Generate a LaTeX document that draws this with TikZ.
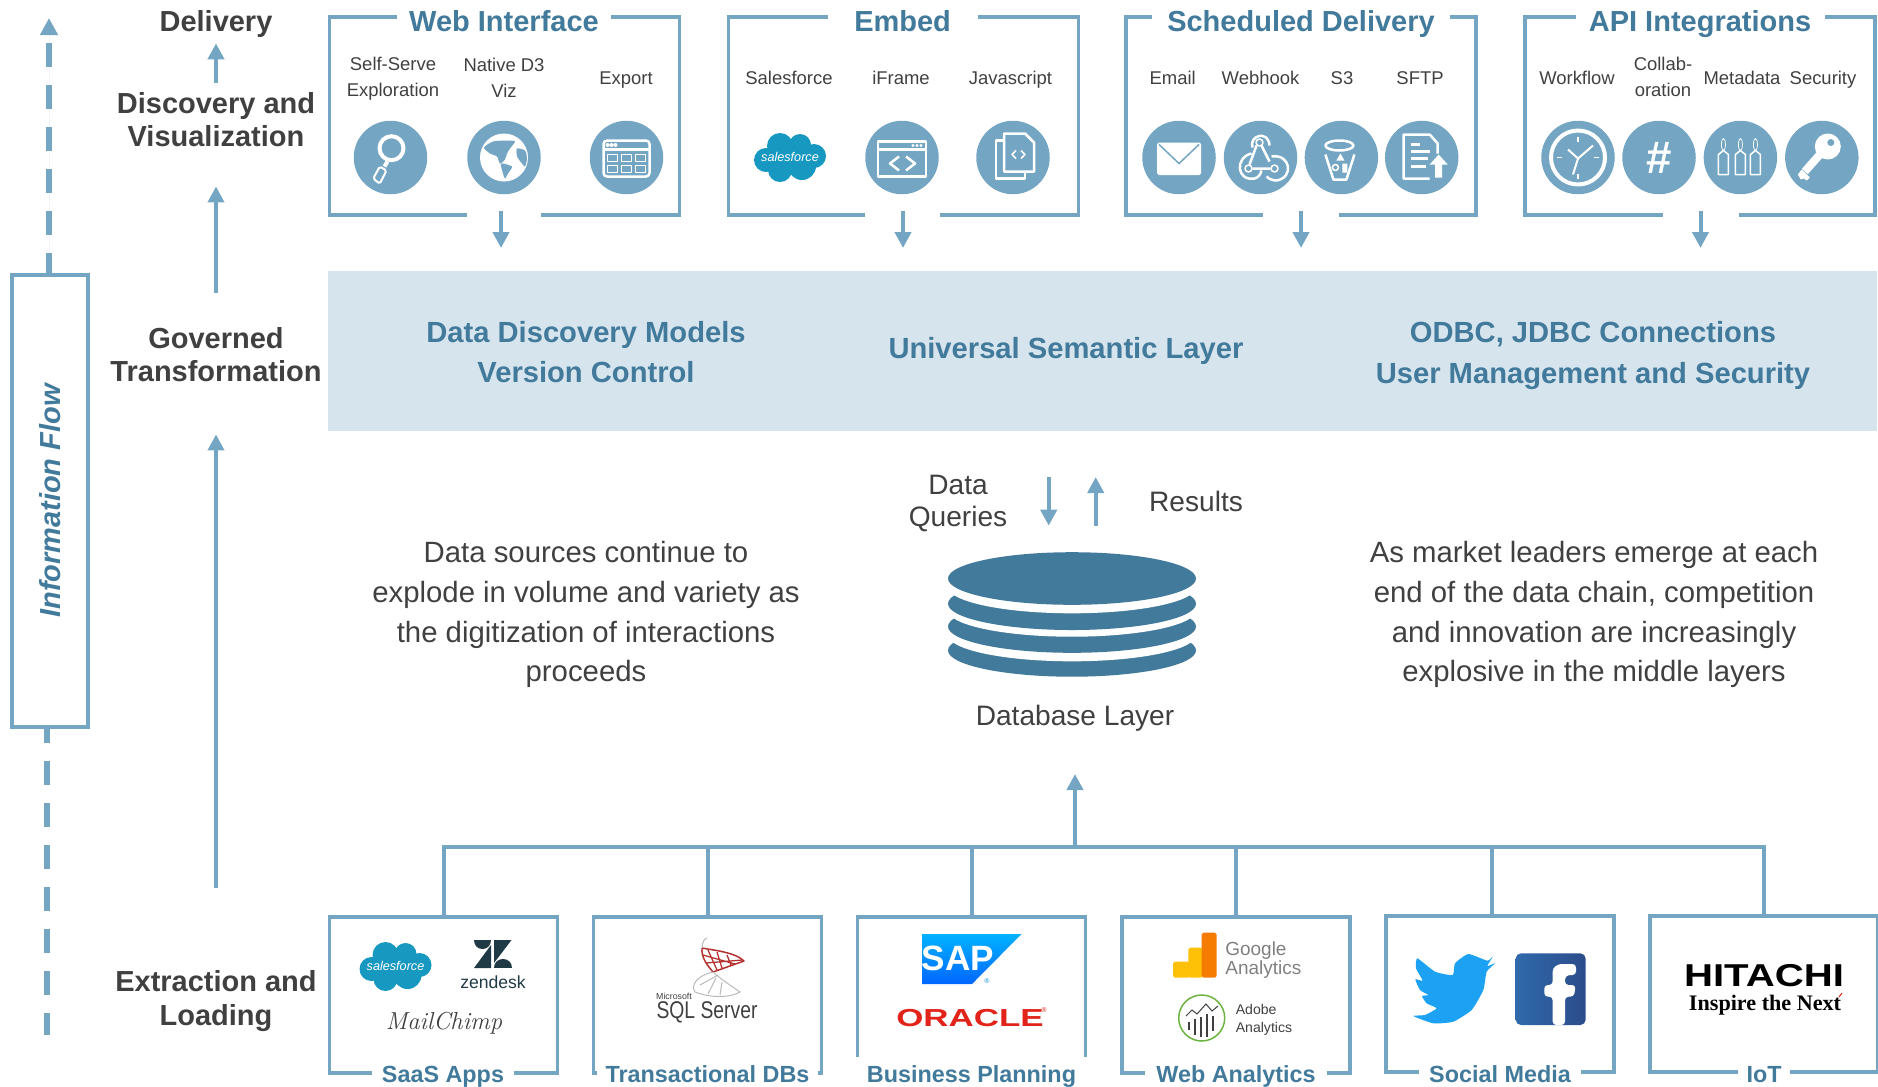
\documentclass[tikz,border=0pt]{standalone}
\usepackage{fontspec}
\setsansfont{Liberation Sans}
\renewcommand{\familydefault}{\sfdefault}
\newfontfamily\logoserif{Liberation Serif}
\usetikzlibrary{arrows.meta}
\definecolor{lineblue}{HTML}{74A6C4}
\definecolor{titleblue}{HTML}{427A9C}
\definecolor{bandblue}{HTML}{D6E4EE}
\definecolor{darktext}{HTML}{404040}
\definecolor{cloudblue}{HTML}{1798C1}
\definecolor{zendark}{HTML}{1F3A44}
\definecolor{sapblue}{HTML}{0A8FD6}
\definecolor{oraclered}{HTML}{E2231A}
\definecolor{sqlred}{HTML}{B5312F}
\definecolor{gaorange}{HTML}{F57C00}
\definecolor{gayellow}{HTML}{FFC107}
\definecolor{adobegreen}{HTML}{6DB33F}
\definecolor{birdblue}{HTML}{1DA1F2}
\definecolor{fbblue}{HTML}{3459A2}
\newcommand{\sfcloud}{%
    \fill[cloudblue] (-10,-11) circle[radius=13] (10,-12) circle[radius=11] (24,-1) circle[radius=12]
        (-24,3) circle[radius=12] (-10,13) circle[radius=12] (12,9) circle[radius=14] (0,0) circle[radius=16];
    \node[font=\fontsize{7.2}{8}\selectfont\itshape, white] at (0,0) {salesforce};
}

\begin{document}
\begin{tikzpicture}[x=0.02cm,y=-0.02cm]
        % Styles
        \tikzset{
            topframe/.style={rectangle, draw=lineblue, line width=0.07cm, inner sep=0,
                             minimum width=7cm, minimum height=3.96cm},
            lowframe/.style={rectangle, draw=lineblue, line width=0.07cm, inner sep=0,
                             minimum width=4.56cm, minimum height=3.12cm},
            toptitle/.style={fill=white, inner sep=0, text=titleblue, text height=0.42cm, text depth=0.12cm,
                             font=\fontsize{16.5}{18}\selectfont\bfseries},
            lowtitle/.style={fill=white, inner sep=0, text=titleblue, text height=0.36cm, text depth=0.1cm,
                             font=\fontsize{13.3}{15}\selectfont\bfseries},
            framegap/.style={fill=white, inner sep=0, minimum height=0.16cm},
            iconcircle/.style={circle, fill=lineblue, inner sep=0, minimum size=1.47cm},
            iconline/.style={draw=white, line width=0.05cm, line join=round},
            thinicon/.style={draw=white, line width=0.03cm, line join=round},
            itemlabel/.style={align=center, text=darktext, font=\fontsize{10.5}{14.7}\selectfont},
            levellabel/.style={align=center, inner sep=0.12cm, text=darktext, font=\fontsize{16.5}{18.7}\selectfont\bfseries},
            bandtext/.style={align=center, text=titleblue, font=\fontsize{16.6}{23.2}\selectfont\bfseries},
            bodytext/.style={align=center, text=darktext, font=\fontsize{16.7}{22.7}\selectfont},
            dbtext/.style={align=center, text=darktext, font=\fontsize{16}{17.8}\selectfont},
            flowarrow/.style={-{Triangle[width=0.32cm,length=0.32cm]}, draw=lineblue, fill=lineblue, line width=0.08cm},
            busline/.style={draw=lineblue, line width=0.08cm},
            dashflow/.style={draw=lineblue, line width=0.12cm, dash pattern=on 0.48cm off 0.36cm}
        }
        \useasboundingbox (0,0) rectangle (1878,1086);

        % Band
        \node[rectangle, fill=bandblue, inner sep=0, minimum width=30.98cm, minimum height=3.2cm] (band) at (1102.5,351) {};
        \node[bandtext] (bandleft) at (586,352) {Data Discovery Models\\Version Control};
        \node[bandtext] (bandmid) at (1066,351) {Universal Semantic Layer};
        \node[bandtext] (bandright) at (1593,355.5) {ODBC, JDBC Connections\\User Management and Security};

        % Top frames
        \node[topframe] (webframe) at (504.5,116) {};
        \node[topframe] (embedframe) at (903.35,116) {};
        \node[topframe] (schedframe) at (1301,116) {};
        \node[topframe] (apiframe) at (1700,116) {};
        \node[toptitle, minimum width=4.28cm] (webtitle) at (504,23.5) {Web Interface};
        \node[toptitle, minimum width=3cm] (embedtitle) at (902.6,23.5) {Embed};
        \node[toptitle, minimum width=5.98cm] (schedtitle) at (1301,23.5) {Scheduled Delivery};
        \node[toptitle, minimum width=4.98cm] (apititle) at (1700,23.5) {API Integrations};
        \node[framegap, minimum width=1.48cm] (webgap) at (504,215) {};
        \node[framegap, minimum width=1.5cm] (embedgap) at (902.5,215) {};
        \node[framegap, minimum width=1.52cm] (schedgap) at (1301.4,215) {};
        \node[framegap, minimum width=1.52cm] (apigap) at (1701,215) {};

        % Top connectors
        \coordinate (webtip) at (501,248);
        \coordinate (embedtip) at (903,248);
        \coordinate (schedtip) at (1301,248);
        \coordinate (apitip) at (1700.5,248);
        \draw[flowarrow] (webgap.north -| webtip) -- (webtip);
        \draw[flowarrow] (embedgap.north -| embedtip) -- (embedtip);
        \draw[flowarrow] (schedgap.north -| schedtip) -- (schedtip);
        \draw[flowarrow] (apigap.north -| apitip) -- (apitip);

        % Item labels
        \node[itemlabel] (selfserve) at (393,79) {Self-Serve\\Exploration};
        \node[itemlabel] (nativeviz) at (504,77.5) {Native D3\\Viz};
        \node[itemlabel] (export) at (626,80) {Export};
        \node[itemlabel] (sflabel) at (789,78) {Salesforce};
        \node[itemlabel] (iframelabel) at (901,78) {iFrame};
        \node[itemlabel] (jslabel) at (1010.5,80) {Javascript};
        \node[itemlabel] (emaillabel) at (1172.7,78) {Email};
        \node[itemlabel] (hooklabel) at (1260.5,78) {Webhook};
        \node[itemlabel] (sthreelabel) at (1342,78) {S3};
        \node[itemlabel] (sftplabel) at (1420,78) {SFTP};
        \node[itemlabel] (flowlabel) at (1577,78) {Workflow};
        \node[itemlabel] (collablabel) at (1663,77) {Collab-\\oration};
        \node[itemlabel] (metalabel) at (1742,78) {Metadata};
        \node[itemlabel] (securelabel) at (1823,80) {Security};

        % Icons of the top row
        \node[iconcircle] (searchicon) at (390.5,157.5) {};
        \begin{scope}[shift={(searchicon)}]
            \draw[iconline, line width=0.08cm] (1,-9.3) circle[radius=12];
            \draw[iconline, line width=0.08cm] (-3,4) -- (-6,9);
            \draw[thinicon, line width=0.04cm, rounded corners=1pt] (-10.7,9) -- (-4,13) -- (-10.7,26.3) -- (-17.3,21) -- cycle;
        \end{scope}
        \node[iconcircle] (globeicon) at (504,157.5) {};
        \begin{scope}[shift={(globeicon)}]
            \fill[white] (0,0) circle[radius=24];
            \fill[lineblue] plot[smooth cycle, tension=0.4] coordinates {(-20,-10) (-11,-16) (3,-17) (11,-16) (6,-9) (3,-4) (1,2) (-4,6) (-7,-1) (-14,-4)};
            \fill[lineblue] plot[smooth cycle, tension=0.4] coordinates {(-3,6) (8,9) (4,16) (1,21) (-1,16)};
            \fill[lineblue] plot[smooth cycle, tension=0.4] coordinates {(13,-9) (21,-7) (23,1) (21,9) (18,6) (13,-1)};
        \end{scope}
        \node[iconcircle] (exporticon) at (626.5,157.5) {};
        \begin{scope}[shift={(exporticon)}]
            \draw[iconline, rounded corners=2pt] (-23,-17) rectangle (23,19);
            \draw[iconline] (-23,-8) -- (23,-8);
            \fill[white] (-19,-12.5) circle[radius=2] (-15,-12.5) circle[radius=2] (-11,-12.5) circle[radius=2];
            \draw[thinicon] (-19,-3) rectangle (-9,4) (-5,-3) rectangle (5,4) (9,-3) rectangle (19,4)
                (-19,8) rectangle (-9,15) (-5,8) rectangle (5,15) (9,8) rectangle (19,15);
        \end{scope}
        \node[inner sep=0, minimum size=1cm] (sfcloudtop) at (790,157) {};
        \begin{scope}[shift={(sfcloudtop)}]
            \sfcloud
        \end{scope}
        \node[iconcircle] (iframeicon) at (902,157.5) {};
        \begin{scope}[shift={(iframeicon)}]
            \draw[iconline] (-24,-16) rectangle (24,19);
            \draw[iconline] (-24,-8) -- (24,-8);
            \fill[white] (11,-12) circle[radius=1.7] (15,-12) circle[radius=1.7] (19,-12) circle[radius=1.7];
            \draw[iconline] (-3,-1) -- (-12,6) -- (-3,13) (4,-1) -- (13,6) -- (4,13);
        \end{scope}
        \node[iconcircle] (jsicon) at (1013,157.5) {};
        \begin{scope}[shift={(jsicon)}]
            \draw[iconline] (-9,-17) -- (-17,-17) -- (-17,21) -- (12,21) -- (12,15);
            \draw[iconline] (-9,14) -- (-9,-24) -- (12,-24) -- (21,-15) -- (21,14) -- cycle;
            \draw[thinicon] (3,-7) -- (-1,-3) -- (3,1) (8,-7) -- (12,-3) -- (8,1);
        \end{scope}
        \node[iconcircle] (emailicon) at (1179,157.5) {};
        \begin{scope}[shift={(emailicon)}]
            \fill[white, rounded corners=1pt] (-22,-15) rectangle (22,17.5);
            \draw[lineblue, line width=0.03cm] (-20,-13) -- (0,6) -- (20,-13);
        \end{scope}
        \node[iconcircle] (hookicon) at (1260.5,157.5) {};
        \begin{scope}[shift={(hookicon)}]
            \draw[thinicon] (-1,-15) circle[radius=3.5] (-12,11) circle[radius=3.5] (14,11) circle[radius=3.5];
            \draw[iconline] (-8,-10) .. controls (-12,-22) and (8,-28) .. (9,-12);
            \draw[iconline] (-9,-4) .. controls (-26,0) and (-24,24) .. (-6,21) .. controls (-2,20) and (0,17) .. (1,13);
            \draw[iconline] (11,-1) .. controls (30,-4) and (34,20) .. (16,23) .. controls (13,23) and (9,22) .. (6,19);
            \draw[iconline] (1,-12) -- (9,4) (-4,-12) -- (-11,7) (-8,11) -- (10,11);
        \end{scope}
        \node[iconcircle] (bucketicon) at (1341.4,157.5) {};
        \begin{scope}[shift={(bucketicon)}]
            \draw[iconline] (-2,-12) ellipse[x radius=14, y radius=5];
            \draw[iconline] (-16,-3) -- (-8,22) -- (5,22) -- (13,-3);
            \fill[white] (-1,-4) -- (-5,3) -- (3,3) -- cycle (1,6) rectangle (6,15);
            \draw[thinicon] (-6,10) circle[radius=3];
        \end{scope}
        \node[iconcircle] (sftpicon) at (1421.7,157.5) {};
        \begin{scope}[shift={(sftpicon)}]
            \draw[iconline] (8,21) -- (-18,21) -- (-18,-23) -- (8,-23) -- (16,-14) -- (16,-4);
            \draw[iconline] (-11,-13) -- (-2,-13) (-11,-6) -- (8,-6) (-11,1) -- (6,1) (-11,9) -- (4,9);
            \fill[white] (17,-3) -- (26,7) -- (20.5,7) -- (20.5,20) -- (13.5,20) -- (13.5,7) -- (8,7) -- cycle;
        \end{scope}
        \node[iconcircle] (clockicon) at (1578,157.5) {};
        \begin{scope}[shift={(clockicon)}]
            \draw[iconline, line width=0.08cm] (0,0) circle[radius=27];
            \draw[thinicon] (0,-21) -- (0,-16) (0,21) -- (0,16) (-21,0) -- (-16,0) (21,0) -- (16,0);
            \draw[thinicon, line width=0.04cm] (-10,-8) -- (0,1) -- (15,-12) (0,1) -- (-5,17);
        \end{scope}
        \node[iconcircle] (hashicon) at (1659,157.5) {};
        \node[text=white, inner sep=0, font=\fontsize{26}{27}\selectfont\bfseries] (hashglyph) at (hashicon) {\#};
        \node[iconcircle] (tagicon) at (1740.4,157.5) {};
        \begin{scope}[shift={(tagicon)}]
            \draw[thinicon] (-17,-7) -- (-12,-3) -- (-12,17) -- (-22,17) -- (-22,-3) -- cycle;
            \draw[thinicon] (0,-7) -- (5,-3) -- (5,17) -- (-5,17) -- (-5,-3) -- cycle;
            \draw[thinicon] (15,-7) -- (20,-3) -- (20,17) -- (10,17) -- (10,-3) -- cycle;
            \draw[white, line width=0.015cm] (-17,-13) ellipse[x radius=2, y radius=6] (0,-13) ellipse[x radius=2, y radius=6] (15,-13) ellipse[x radius=2, y radius=6];
        \end{scope}
        \node[iconcircle] (keyicon) at (1821.8,157.5) {};
        \begin{scope}[shift={(keyicon)}]
            \fill[white] (6,-11) circle[radius=13];
            \draw[white, line width=0.16cm] (-1,-4) -- (-17,14);
            \fill[white] (-20,12) -- (-12,20) -- (-15,23) -- (-18,21) -- (-21,22) -- (-24,17) -- cycle;
            \fill[lineblue] (9,-15) circle[radius=3.5];
        \end{scope}

        % Level labels
        \node[levellabel] (delivery) at (216,23.5) {Delivery};
        \node[levellabel] (discovery) at (216,120) {Discovery and\\Visualization};
        \node[levellabel] (governed) at (216,355) {Governed\\Transformation};
        \node[levellabel, font=\fontsize{16.5}{19.3}\selectfont\bfseries] (extraction) at (216,1001) {Extraction and\\Loading};
        \draw[flowarrow, shorten <=0.08cm] (discovery.north) -- (delivery.south);
        \draw[flowarrow, shorten <=0.58cm, shorten >=0.66cm] (governed.north) -- (discovery.south);
        \draw[flowarrow, shorten <=1.53cm, shorten >=0.92cm] (extraction.north) -- (governed.south);

        % Information flow
        \node[rectangle, draw=lineblue, line width=0.08cm, rotate=90, inner sep=0, minimum width=9.04cm, minimum height=1.52cm,
              text=titleblue, font=\fontsize{16.5}{19}\selectfont\bfseries\itshape] (infobox) at (50,501) {Information Flow};
        \coordinate (flowtop) at (49,18);
        \coordinate (flowend) at (46.5,1035);
        \draw[dashflow, dash phase=0.08cm, -{Triangle[width=0.34cm,length=0.34cm]}, fill=lineblue] (infobox.east -| flowtop) -- (flowtop);
        \draw[dashflow, dash phase=0.2cm] (infobox.west -| flowend) -- (flowend);

        % Middle
        \node[bodytext] (sourcetext) at (586,614.5) {Data sources continue to\\explode in volume and variety as\\the digitization of interactions\\proceeds};
        \node[bodytext] (markettext) at (1594,614.5) {As market leaders emerge at each\\end of the data chain, competition\\and innovation are increasingly\\explosive in the middle layers};
        \node[dbtext] (querylabel) at (958,503.5) {Data\\Queries};
        \node[dbtext] (resultlabel) at (1196,501.5) {Results};
        \coordinate (querytop) at (1048.7,477);
        \coordinate (querytip) at (1048.7,525.7);
        \coordinate (resultlow) at (1095.7,525.7);
        \coordinate (resulttip) at (1095.7,477);
        \draw[flowarrow] (querytop) -- (querytip);
        \draw[flowarrow] (resultlow) -- (resulttip);

        % Database
        \fill[titleblue] (1072,650.4) ellipse[x radius=124, y radius=26.3];
        \fill[white] (1072,635) ellipse[x radius=124, y radius=26.3];
        \fill[titleblue] (1072,626.5) ellipse[x radius=124, y radius=26.3];
        \fill[white] (1072,610.4) ellipse[x radius=124, y radius=26.3];
        \fill[titleblue] (1072,603.7) ellipse[x radius=124, y radius=26.3];
        \fill[white] (1072,587) ellipse[x radius=124, y radius=26.3];
        \fill[titleblue] (1072,578.5) ellipse[x radius=124, y radius=26.3];
        \node[dbtext] (dblabel) at (1075,718) {Database Layer};

        % Lower frames
        \node[lowframe] (saasframe) at (443.5,995) {};
        \node[lowframe] (transframe) at (707.5,995) {};
        \node[lowframe] (bizframe) at (971.5,995) {};
        \node[lowframe] (webanaframe) at (1236,995) {};
        \node[lowframe] (socialframe) at (1500,994) {};
        \node[lowframe] (iotframe) at (1764,994) {};
        \node[lowtitle, minimum width=2.84cm] (saastitle) at (443,1075.5) {SaaS Apps};
        \node[lowtitle, minimum width=4.41cm] (transtitle) at (707.5,1075.5) {Transactional DBs};
        \node[lowtitle, minimum width=4.72cm, minimum height=0.74cm] (biztitle) at (971.5,1075.5) {Business Planning};
        \node[lowtitle, minimum width=3.63cm] (webanatitle) at (1236,1075.5) {Web Analytics};
        \node[lowtitle, minimum width=3.25cm] (socialtitle) at (1500,1075.5) {Social Media};
        \node[lowtitle, minimum width=1.05cm] (iottitle) at (1764,1075.5) {IoT};

        % Bus
        \coordinate (busjoin) at (1075,847);
        \coordinate (dbtip) at (1075,774);
        \coordinate (socialstem) at (1492,915);
        \draw[busline] (saasframe.north) |- (iotframe.north |- busjoin) -- (iotframe.north);
        \draw[busline] (transframe.north) -- (transframe.north |- busjoin);
        \draw[busline] (bizframe.north) -- (bizframe.north |- busjoin);
        \draw[busline] (webanaframe.north) -- (webanaframe.north |- busjoin);
        \draw[busline] (socialstem) -- (socialstem |- busjoin);
        \draw[flowarrow] (busjoin) -- (dbtip);

        % Logos
        \node[inner sep=0, minimum size=1cm] (sfcloudlow) at (395.5,966) {};
        \begin{scope}[shift={(sfcloudlow)}]
            \sfcloud
        \end{scope}
        \fill[zendark] (474,940) -- (491,940) .. controls (491,952) and (474,952) .. (474,940);
        \fill[zendark] (494,940) -- (511.5,940) -- (494,963) -- cycle;
        \fill[zendark] (474,968) -- (491,968) -- (491,945) -- cycle;
        \fill[zendark] (494,968) .. controls (494,956) and (511.5,956) .. (511.5,968) -- cycle;
        \node[text=zendark, font=\fontsize{10}{11}\selectfont] (zenlabel) at (493,982) {zendesk};
        \node[text=darktext, font=\rmfamily\itshape\fontsize{14}{15}\selectfont] (chimplabel) at (444,1023) {MailChimp};
        \draw[sqlred, line width=0.03cm, line join=round] (702,948) .. controls (712,950) and (735,952) .. (744,961) -- (713,972) .. controls (708,966) and (701,958) .. (702,948);
        \draw[sqlred, line width=0.025cm] (708,950) -- (717,970) (717,952) -- (722,968) (727,955) -- (731,965) (703,955) -- (735,964) (706,963) -- (742,960);
        \draw[gray!55, line width=0.02cm] (702,948) .. controls (702,942) and (705,938) .. (707,938)
            (713,972) .. controls (698,975) and (690,985) .. (695,992) .. controls (710,998) and (730,998) .. (740,992) .. controls (730,985) and (722,980) .. (713,972)
            (700,985) -- (718,975) (708,994) -- (716,978) (720,995) -- (722,982);
        \node[text=darktext, inner sep=0, font=\fontsize{5}{6}\selectfont] (mslabel) at (674,996) {Microsoft};
        \node[text=darktext, inner sep=0, yscale=1.25, transform shape, font=\fontsize{11}{12}\selectfont] (sqllabel) at (707,1012) {SQL Server};
        \shade[top color=cyan!70!blue, bottom color=blue!60!cyan] (922,934) -- (1021.5,934) -- (972,984) -- (922,984) -- cycle;
        \node[text=white, inner sep=0, font=\fontsize{20}{21}\selectfont\bfseries] (saplabel) at (958,958) {SAP};
        \node[text=sapblue, inner sep=0, font=\fontsize{4}{5}\selectfont] (sapmark) at (987,981) {®};
        \node[text=oraclered, inner sep=0, xscale=1.42, transform shape, font=\fontsize{14}{15}\selectfont\bfseries] (oraclelabel) at (970,1018) {ORACLE};
        \node[text=oraclered, inner sep=0, font=\fontsize{4}{5}\selectfont] (oraclemark) at (1044,1010) {®};
        \fill[gayellow, rounded corners=1pt] (1173,961.7) rectangle (1190,977.7);
        \fill[gayellow, rounded corners=1pt] (1188.3,947.7) rectangle (1203,977.7);
        \fill[gaorange, rounded corners=1pt] (1201.7,932.7) rectangle (1216.6,977.7);
        \node[anchor=west, align=left, inner sep=0, text=gray, font=\fontsize{10.8}{10.9}\selectfont] (galabel) at (1225,960) {Google\\Analytics};
        \draw[adobegreen, line width=0.03cm] (1201.7,1018) circle[radius=23];
        \draw[darktext, line width=0.02cm] (1186,1016) -- (1192,1010) -- (1197,1014) -- (1206,1004) -- (1212,1011) -- (1218,1006);
        \draw[darktext, line width=0.04cm] (1189,1022) -- (1189,1030) (1195,1019) -- (1195,1035) (1201,1017) -- (1201,1037) (1207,1014) -- (1207,1037) (1213,1016) -- (1213,1031);
        \node[anchor=west, align=left, inner sep=0, text=darktext, font=\fontsize{8}{10.4}\selectfont] (adobelabel) at (1235.5,1019.5) {Adobe\\Analytics};
        \begin{scope}[shift={(1400,940)}, scale=0.3333]
            \fill[birdblue] plot[smooth cycle, tension=0.3] coordinates {(278,50) (262,62) (205,42) (165,70) (158,105) (105,95) (52,55) (48,85) (68,122) (46,118) (60,150) (85,165) (66,168) (80,190) (110,205) (75,225) (40,228) (100,250) (160,245) (215,210) (250,150) (260,95) (285,70) (262,78)};
            \shade[left color=fbblue!90!cyan, right color=fbblue!85!black, rounded corners=3pt] (347,40) rectangle (557,255);
            \fill[white, rounded corners=2pt] (458,255) -- (458,170) -- (433,170) -- (433,135) -- (458,135) -- (458,105) .. controls (458,80) and (475,72) .. (495,72) -- (528,72) -- (528,105) -- (508,105) -- (495,108) -- (495,135) -- (527,135) -- (522,170) -- (495,170) -- (495,255) -- cycle;
        \end{scope}
        \node[inner sep=0, xscale=1.27, transform shape, font=\fontsize{18}{19}\selectfont\bfseries] (hitachilabel) at (1764,976) {HITACHI};
        \node[inner sep=0, font=\logoserif\fontsize{12.6}{13}\selectfont\bfseries] (nextlabel) at (1765,1005) {Inspire the Next};
        \draw[oraclered, line width=0.02cm] (1839,997) -- (1842,993);
\end{tikzpicture}
\end{document}
